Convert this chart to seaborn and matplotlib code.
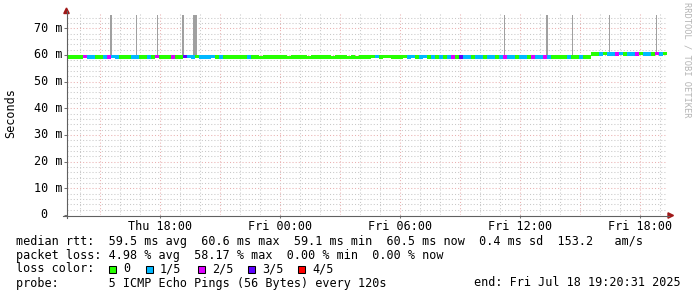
import numpy as np
import pandas as pd
import matplotlib
matplotlib.use("Agg")
import matplotlib.pyplot as plt
import seaborn as sns
from matplotlib.lines import Line2D
from matplotlib.patches import Polygon, Rectangle

# ---------------- data ----------------
start_hour = 13 + 20 / 60 + 31 / 3600      # Thu 13:20:31 (hours since Thu 00:00)
step_hours = 0.2                            # one consolidated sample every 12 min

median_ms = [
    59.3, 59.2, 59.3, 59.3, 59.4, 59.3, 59.3, 59.2, 59.3, 59.3,
    59.3, 59.4, 59.3, 59.2, 59.3, 59.3, 59.3, 59.3, 59.2, 59.3,
    59.3, 59.3, 59.4, 59.3, 59.3, 59.2, 59.3, 59.3, 59.3, 59.4,
    59.4, 59.3, 59.4, 59.3, 59.3, 59.3, 59.4, 59.2, 59.3, 59.3,
    59.2, 59.2, 59.3, 59.2, 59.2, 59.3, 59.2, 59.2, 59.1, 59.2,
    59.2, 59.2, 59.3, 59.2, 59.2, 59.1, 59.2, 59.2, 59.2, 59.2,
    59.1, 59.2, 59.2, 59.2, 59.2, 59.2, 59.1, 59.2, 59.2, 59.2,
    59.1, 59.2, 59.1, 59.2, 59.2, 59.2, 59.4, 59.4, 59.3, 59.4,
    59.4, 59.3, 59.3, 59.3, 59.4, 59.3, 59.4, 59.3, 59.3, 59.4,
    59.3, 59.3, 59.2, 59.3, 59.3, 59.3, 59.2, 59.3, 59.3, 59.2,
    59.3, 59.2, 59.3, 59.3, 59.2, 59.3, 59.3, 59.2, 59.3, 59.3,
    59.3, 59.2, 59.3, 59.3, 59.2, 59.2, 59.3, 59.3, 59.2, 59.2,
    59.3, 59.2, 59.2, 59.3, 59.2, 59.3, 59.2, 59.2, 59.3, 59.3,
    59.3, 60.3, 60.4, 60.4, 60.5, 60.4, 60.4, 60.4, 60.5, 60.4,
    60.4, 60.4, 60.4, 60.5, 60.4, 60.4, 60.4, 60.5, 60.4, 60.5,
]

loss_code = [
    0, 0, 0, 0, 2, 1, 1, 0, 0, 1,
    2, 1, 1, 0, 0, 0, 1, 1, 0, 0,
    1, 0, 2, 0, 0, 0, 2, 0, 0, 3,
    1, 1, 0, 1, 1, 1, 1, 0, 1, 0,
    0, 0, 0, 0, 0, 1, 0, 0, 0, 0,
    0, 0, 0, 0, 0, 0, 0, 0, 0, 0,
    0, 0, 0, 0, 0, 0, 0, 0, 0, 0,
    0, 0, 0, 0, 0, 0, 0, 1, 0, 0,
    0, 0, 0, 0, 0, 1, 1, 0, 1, 1,
    0, 1, 0, 1, 0, 1, 2, 0, 3, 1,
    1, 0, 1, 1, 0, 1, 1, 0, 1, 2,
    1, 1, 0, 1, 1, 0, 2, 1, 1, 2,
    1, 0, 0, 0, 0, 1, 0, 0, 1, 0,
    0, 0, 0, 1, 0, 1, 1, 2, 1, 0,
    1, 1, 2, 0, 1, 1, 0, 2, 1, 0,
]

loss_labels = ["0", "1/5", "2/5", "3/5", "4/5"]
loss_colors = ["#26ff00", "#00b8ff", "#dd00ff", "#5e00ff", "#ff0000"]

# smoke spikes (hours, width in hours, bottom and top in ms)
smoke_hours = [15.56, 16.81, 17.86, 19.16, 19.78, 35.21, 37.36, 38.61, 40.46, 42.81]
smoke_width_h = [0.10, 0.05, 0.05, 0.10, 0.20, 0.05, 0.10, 0.05, 0.05, 0.05]
smoke_bottom_ms = [59.3, 59.3, 59.3, 59.4, 59.4, 59.3, 59.2, 59.2, 60.4, 60.4]
smoke_top_ms = [75.0] * 10

y_ticks = [0, 10, 20, 30, 40, 50, 60, 70]
y_tick_labels = ["0", "10 m", "20 m", "30 m", "40 m", "50 m", "60 m", "70 m"]
x_ticks = [18, 24, 30, 36, 42]
x_tick_labels = ["Thu 18:00", "Fri 00:00", "Fri 06:00", "Fri 12:00", "Fri 18:00"]

line_rtt = "median rtt:  59.5 ms avg  60.6 ms max  59.1 ms min  60.5 ms now  0.4 ms sd  153.2   am/s"
line_loss = "packet loss: 4.98 % avg  58.17 % max  0.00 % min  0.00 % now"
line_color = "loss color:"
line_probe = "probe:       5 ICMP Echo Pings (56 Bytes) every 120s"
line_end = "end: Fri Jul 18 19:20:31 2025"

# ---------------- figure ----------------
W, H = 697, 297
MONO = "DejaVu Sans Mono"
FS = 8.45
plt.rcParams["font.family"] = [MONO, "DejaVu Sans"]


def fx(px):
    return px / W


def fy(py):
    return 1 - py / H


fig = plt.figure(figsize=(W / 100, H / 100), dpi=100)
fig.patch.set_facecolor("white")
ax = fig.add_axes([fx(66.7), fy(215), (600) / W, (215 - 13) / H])
ax.set_facecolor("white")
n = len(median_ms)
ax.set_xlim(start_hour, start_hour + n * step_hours)
ax.set_ylim(0, 75.75)

# grid
GRID_MAJOR = "#eab0b0"
GRID_MINOR = "#c8c8c8"
for h in range(14, 44):
    ax.axvline(h, color=GRID_MAJOR if h % 3 == 0 else GRID_MINOR, lw=0.75,
               ls=(0, (1, 2)), zorder=0)
for v in range(2, 76, 2):
    ax.axhline(v, color=GRID_MAJOR if v % 10 == 0 else GRID_MINOR, lw=0.75,
               ls=(0, (1, 2)), zorder=0)

# smoke
heights = [t - b for t, b in zip(smoke_top_ms, smoke_bottom_ms)]
ax.bar(smoke_hours, heights, bottom=smoke_bottom_ms, width=smoke_width_h,
       color="#a0a0a0", linewidth=0, zorder=2)

# median coloured by loss
df = pd.DataFrame({
    "time": [start_hour + step_hours * (i + 0.5) for i in range(n)],
    "median": median_ms,
    "loss": [loss_labels[c] for c in loss_code],
})
rect = [(-1, -0.8), (1, -0.8), (1, 0.8), (-1, 0.8), (-1, -0.8)]
sns.scatterplot(data=df, x="time", y="median", hue="loss", hue_order=loss_labels,
                palette=dict(zip(loss_labels, loss_colors)), marker=rect, s=9.5,
                linewidth=0, edgecolor="none", legend=False, ax=ax, zorder=3)
ax.set_xlabel("")
ax.set_ylabel("")

for sp in ax.spines.values():
    sp.set_visible(False)

ax.set_xticks(x_ticks, x_tick_labels)
ax.tick_params(axis="x", length=2, width=0.75, color="#707070", pad=1.5,
               labelsize=FS, labelcolor="black")
ax.set_yticks(y_ticks, [""] * len(y_ticks))
ax.tick_params(axis="y", length=2.5, width=0.75, color="#707070")
for lab in ax.get_xticklabels():
    lab.set_fontfamily(MONO)

for v, lab in zip(y_ticks, y_tick_labels):
    off = -22.7 if lab == "0" else -18.5
    ax.annotate(lab, xy=(0, v), xycoords=("axes fraction", "data"),
                xytext=(off, 0), textcoords="offset pixels", ha="center",
                va="center", fontsize=FS, family=MONO, color="black")

# axis lines and arrows
fig.add_artist(Line2D([fx(66.5), fx(66.5)], [fy(218), fy(11)], color="#606060",
                      lw=0.8, transform=fig.transFigure))
fig.add_artist(Line2D([fx(63), fx(669)], [fy(215.5), fy(215.5)], color="#606060",
                      lw=0.8, transform=fig.transFigure))
fig.add_artist(Polygon([(fx(63.8), fy(13.5)), (fx(69.2), fy(13.5)), (fx(66.5), fy(8))],
                       closed=True, color="#a01818", transform=fig.transFigure))
fig.add_artist(Polygon([(fx(668), fy(212.8)), (fx(668), fy(218.2)), (fx(673.5), fy(215.5))],
                       closed=True, color="#a01818", transform=fig.transFigure))

# y label and watermark
fig.text(fx(11), fy(113), "Seconds", rotation=90, ha="center", va="center",
         fontsize=FS, family=MONO)
fig.text(fx(686.5), fy(60), "RRDTOOL / TOBI OETIKER", rotation=270, ha="center",
         va="center", fontsize=6.3, family=MONO, color="#b4b4b4")

# legend / statistics block
fig.text(fx(16), fy(241), line_rtt, ha="left", va="center", fontsize=FS, family=MONO)
fig.text(fx(16), fy(255), line_loss, ha="left", va="center", fontsize=FS, family=MONO)
fig.text(fx(16), fy(269), line_color, ha="left", va="center", fontsize=FS, family=MONO)
fig.text(fx(16), fy(283), line_probe, ha="left", va="center", fontsize=FS, family=MONO)
fig.text(fx(680.5), fy(283), line_end, ha="right", va="center", fontsize=FS, family=MONO)

box_x = [108.5, 146.0, 197.5, 247.5, 298.0]
text_x = [123.5, 160.0, 212.0, 262.0, 312.5]
for bx, tx, lab, col in zip(box_x, text_x, loss_labels, loss_colors):
    fig.add_artist(Rectangle((fx(bx), fy(272.5)), 7 / W, 7 / H, facecolor=col,
                             edgecolor="black", lw=0.75, transform=fig.transFigure))
    fig.text(fx(tx), fy(269), lab, ha="left", va="center", fontsize=FS, family=MONO)

fig.savefig("out.png", dpi=100)
